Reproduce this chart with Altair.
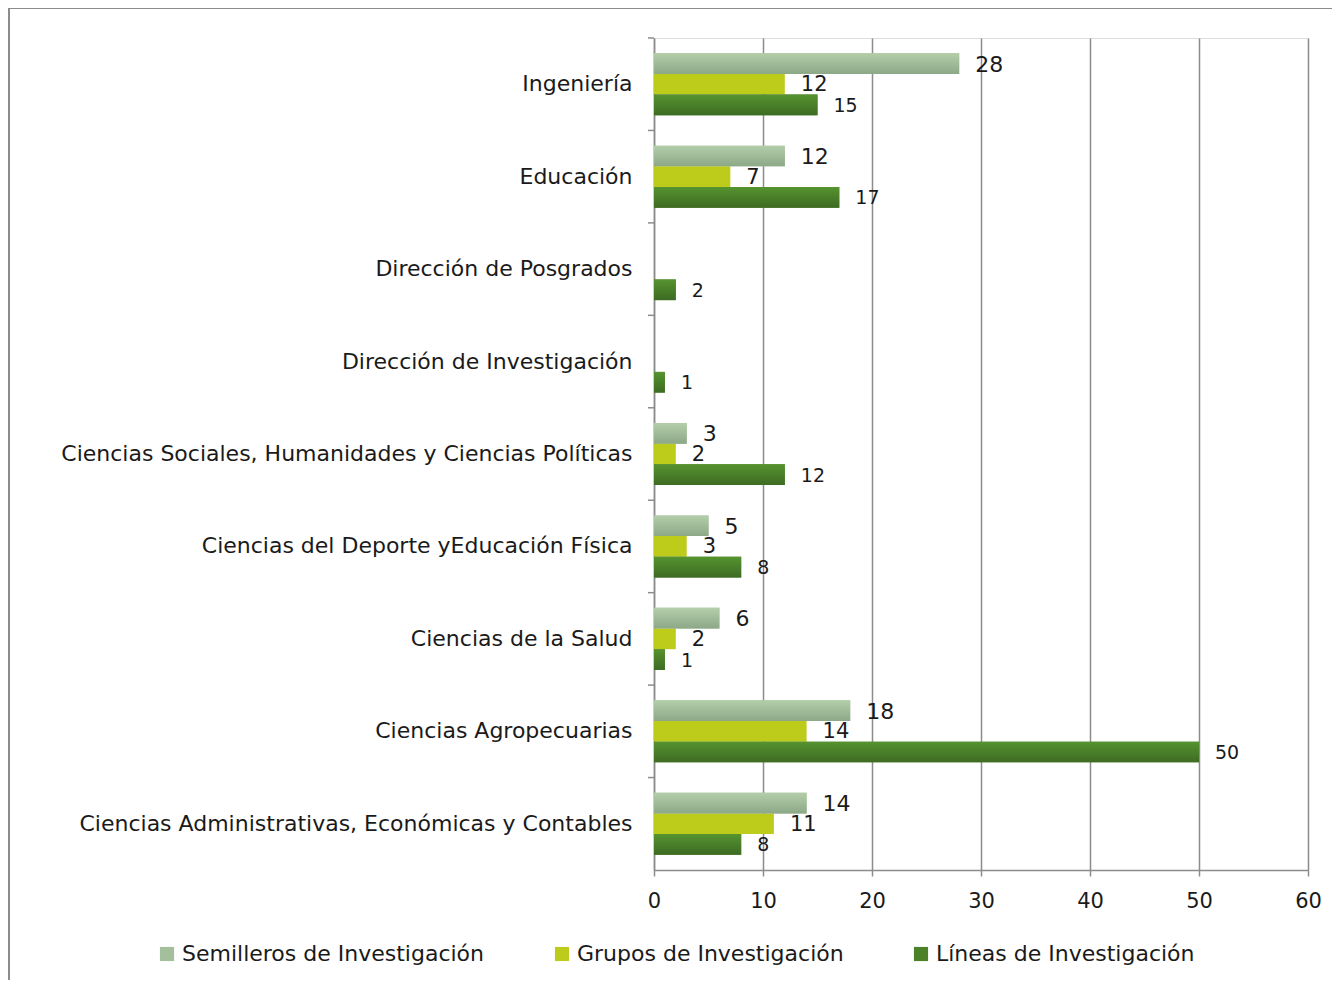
import altair as alt
import pandas as pd

categories = [
    "Ingeniería",
    "Educación",
    "Dirección de Posgrados",
    "Dirección de Investigación",
    "Ciencias Sociales, Humanidades y Ciencias Políticas",
    "Ciencias del Deporte yEducación Física",
    "Ciencias de la Salud",
    "Ciencias Agropecuarias",
    "Ciencias Administrativas, Económicas y Contables",
]
series = ["Semilleros de Investigación", "Grupos de Investigación", "Líneas de Investigación"]
semilleros = [28, 12, None, None, 3, 5, 6, 18, 14]
grupos = [12, 7, None, None, 2, 3, 2, 14, 11]
lineas = [15, 17, 2, 1, 12, 8, 1, 50, 8]
x_ticks = [0, 10, 20, 30, 40, 50, 60]
label_sizes = [22, 21, 19]

rows = []
for s, vals, fs in zip(series, [semilleros, grupos, lineas], label_sizes):
    for c, v in zip(categories, vals):
        if v is not None:
            rows.append({"categoria": c, "serie": s, "valor": v, "fs": fs})
df = pd.DataFrame(rows)

FONT = "DejaVu Sans"
FS = 22
colors = ["#a3bf9b", "#bdcb1b", "#4a8129"]

y_enc = alt.Y("categoria:N", sort=categories,
              scale=alt.Scale(domain=categories, paddingInner=0, paddingOuter=0),
              axis=alt.Axis(title=None, ticks=False, labelPadding=22, labelLimit=900,
                            labelFontSize=FS, labelFont=FONT, labelColor="#1a1a1a",
                            domainColor="#8c8c8c", domainWidth=1.5, grid=False))
yoff = alt.YOffset("serie:N", sort=series,
                   scale=alt.Scale(domain=series, paddingInner=0, paddingOuter=0.735))
x_enc = alt.X("valor:Q", scale=alt.Scale(domain=[0, 60], nice=False),
              axis=alt.Axis(title=None, values=x_ticks, grid=True, gridColor="#8c8c8c",
                            gridWidth=1.5, domainColor="#8c8c8c", domainWidth=1.5,
                            tickColor="#8c8c8c", tickSize=6, tickWidth=1.5,
                            labelFontSize=21, labelFont=FONT, labelColor="#1a1a1a",
                            labelPadding=14, labelFlush=False))

bars = alt.Chart(df).mark_bar().encode(
    x=x_enc, y=y_enc, yOffset=yoff,
    color=alt.Color("serie:N", sort=series,
                    scale=alt.Scale(domain=series, range=colors),
                    legend=alt.Legend(title=None, orient="none", direction="horizontal",
                                      legendX=-498, legendY=905, labelFontSize=FS,
                                      labelFont=FONT, labelColor="#1a1a1a", labelLimit=600,
                                      symbolType="square", symbolSize=200,
                                      symbolStrokeWidth=0, labelOffset=4,
                                      columnPadding=66)),
)

grad_sem = alt.Gradient(gradient="linear", x1=0, y1=0, x2=0, y2=1,
                        stops=[alt.GradientStop(offset=0, color="#b3cea9"),
                               alt.GradientStop(offset=1, color="#8ca887")])
grad_lin = alt.Gradient(gradient="linear", x1=0, y1=0, x2=0, y2=1,
                        stops=[alt.GradientStop(offset=0, color="#56932f"),
                               alt.GradientStop(offset=1, color="#3d6b23")])

sem_layer = alt.Chart(df).transform_filter(alt.datum.serie == series[0]).mark_bar(
    fill=grad_sem).encode(x="valor:Q", y=alt.Y("categoria:N", sort=categories), yOffset=yoff)
lin_layer = alt.Chart(df).transform_filter(alt.datum.serie == series[2]).mark_bar(
    fill=grad_lin).encode(x="valor:Q", y=alt.Y("categoria:N", sort=categories), yOffset=yoff)

labels = alt.Chart(df).mark_text(align="left", baseline="middle", dx=16, dy=1, font=FONT,
                                 color="#1a1a1a").encode(
    x="valor:Q", y=alt.Y("categoria:N", sort=categories), yOffset=yoff,
    text="valor:Q",
    size=alt.Size("fs:Q", scale=None, legend=None),
)

cat_ticks = alt.Chart(pd.DataFrame({"categoria": categories})).mark_rule(
    color="#8c8c8c", strokeWidth=1.5).encode(
    y=alt.Y("categoria:N", sort=categories, bandPosition=0),
    x=alt.value(-6), x2=alt.value(0))

border = alt.Chart(pd.DataFrame({"k": [0]})).mark_rect(
    fill=None, stroke="#8c8c8c", strokeWidth=2).encode(
    x=alt.value(-645), x2=alt.value(720), y=alt.value(-30), y2=alt.value(1000))

chart = alt.layer(border, bars, sem_layer, lin_layer, labels, cat_ticks).properties(
    width=654, height=832,
    padding={"left": 646, "top": 30, "right": 24, "bottom": 110},
    autosize=alt.AutoSizeParams(type="none"),
).configure_view(stroke=None).configure(background="white")

chart.save("out.html", embed_options={"renderer": "svg", "actions": False})
